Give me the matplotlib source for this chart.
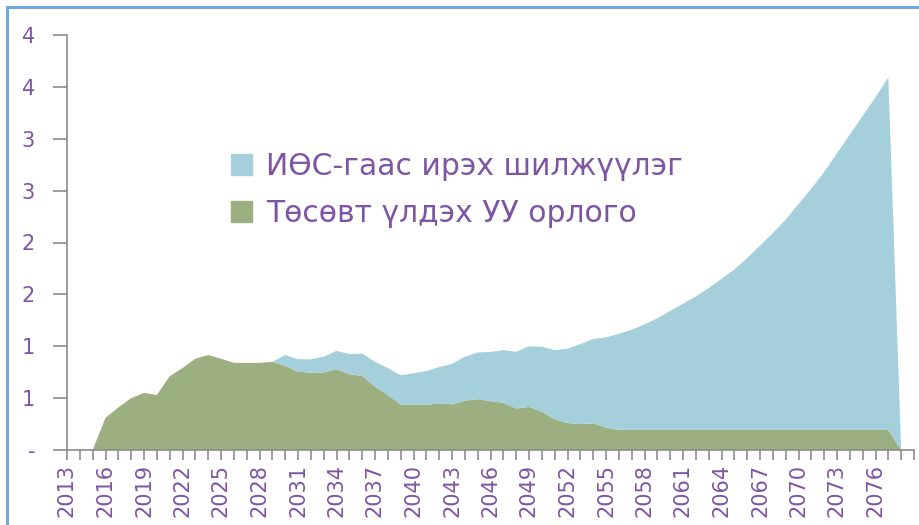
import matplotlib
matplotlib.use("Agg")
import matplotlib.pyplot as plt
from matplotlib.patches import Rectangle, Patch

years = list(range(2013, 2079))

# Төсөвт үлдэх УУ орлого (green, bottom layer)
budget = [0, 0, 0, 0.31, 0.41, 0.50, 0.55, 0.53, 0.71, 0.79,
          0.88, 0.915, 0.88, 0.84, 0.84, 0.84, 0.85, 0.81, 0.755, 0.745,
          0.745, 0.78, 0.73, 0.715, 0.61, 0.53, 0.44, 0.435, 0.435, 0.45,
          0.44, 0.475, 0.49, 0.47, 0.455, 0.40, 0.415, 0.37, 0.295, 0.26,
          0.25, 0.257, 0.215, 0.193, 0.193, 0.193, 0.193, 0.193, 0.193, 0.193,
          0.193, 0.193, 0.193, 0.193, 0.193, 0.193, 0.193, 0.193, 0.193, 0.193,
          0.193, 0.193, 0.193, 0.193, 0.193, 0]

# ИӨС-гаас ирэх шилжүүлэг (blue, stacked on top)
transfer = [0, 0, 0, 0, 0, 0, 0, 0, 0, 0,
            0, 0, 0, 0, 0, 0, 0, 0.105, 0.12, 0.13,
            0.155, 0.175, 0.195, 0.215, 0.24, 0.26, 0.28, 0.305, 0.325, 0.35,
            0.39, 0.425, 0.45, 0.475, 0.508, 0.547, 0.585, 0.625, 0.668, 0.716,
            0.77, 0.813, 0.87, 0.927, 0.967, 1.017, 1.077, 1.147, 1.217, 1.287,
            1.367, 1.457, 1.547, 1.657, 1.777, 1.897, 2.027, 2.177, 2.327, 2.487,
            2.667, 2.847, 3.027, 3.207, 3.397, 0]

series_names = ["ИӨС-гаас ирэх шилжүүлэг", "Төсөвт үлдэх УУ орлого"]
y_ticks = [0, 0.5, 1, 1.5, 2, 2.5, 3, 3.5, 4]
y_tick_labels = ["-", "1", "1", "2", "2", "3", "3", "4", "4"]
x_ticks = list(range(2013, 2080))
x_tick_labels = [str(y) if (y - 2013) % 3 == 0 and y < 2079 else "" for y in x_ticks]

blue = "#A6CFDC"
green = "#9CAF81"
purple = "#7E55A3"
grey = "#8C8C8C"

fig = plt.figure(figsize=(9.2, 5.25), dpi=100)
ax = fig.add_axes([67 / 920, 75 / 525, (914 - 67) / 920, (450 - 35) / 525])

ax.stackplot(years, budget, transfer, colors=[green, blue], linewidth=0)

ax.set_xlim(2013, 2079)
ax.set_ylim(0, 4)
ax.set_yticks(y_ticks)
ax.set_yticklabels(y_tick_labels)
ax.set_xticks(x_ticks)
ax.set_xticklabels(x_tick_labels, rotation=90)

for s in ["top", "right"]:
    ax.spines[s].set_visible(False)
for s in ["left", "bottom"]:
    ax.spines[s].set_color(grey)
    ax.spines[s].set_linewidth(1.2)

ax.tick_params(axis="y", length=10, width=1.2, color=grey, pad=13,
               labelsize=15, labelcolor=purple)
ax.tick_params(axis="x", length=7, width=1.2, color=grey, pad=3,
               labelsize=15, labelcolor=purple)

handles = [Patch(color=blue), Patch(color=green)]
fig.legend(handles, series_names, loc="upper left",
           bbox_to_anchor=(231 / 920, 1 - 152 / 525), frameon=False,
           fontsize=21.5, labelcolor=purple, handlelength=0.72, handleheight=0.72,
           handletextpad=0.45, labelspacing=0.6, borderpad=0, borderaxespad=0)

fig.patches.append(Rectangle((7 / 920, -0.1), 1.2, 1.1 - 7 / 525,
                             transform=fig.transFigure, fill=False,
                             edgecolor="#6FA8DC", linewidth=2.2))

fig.savefig("out.png", dpi=100)
